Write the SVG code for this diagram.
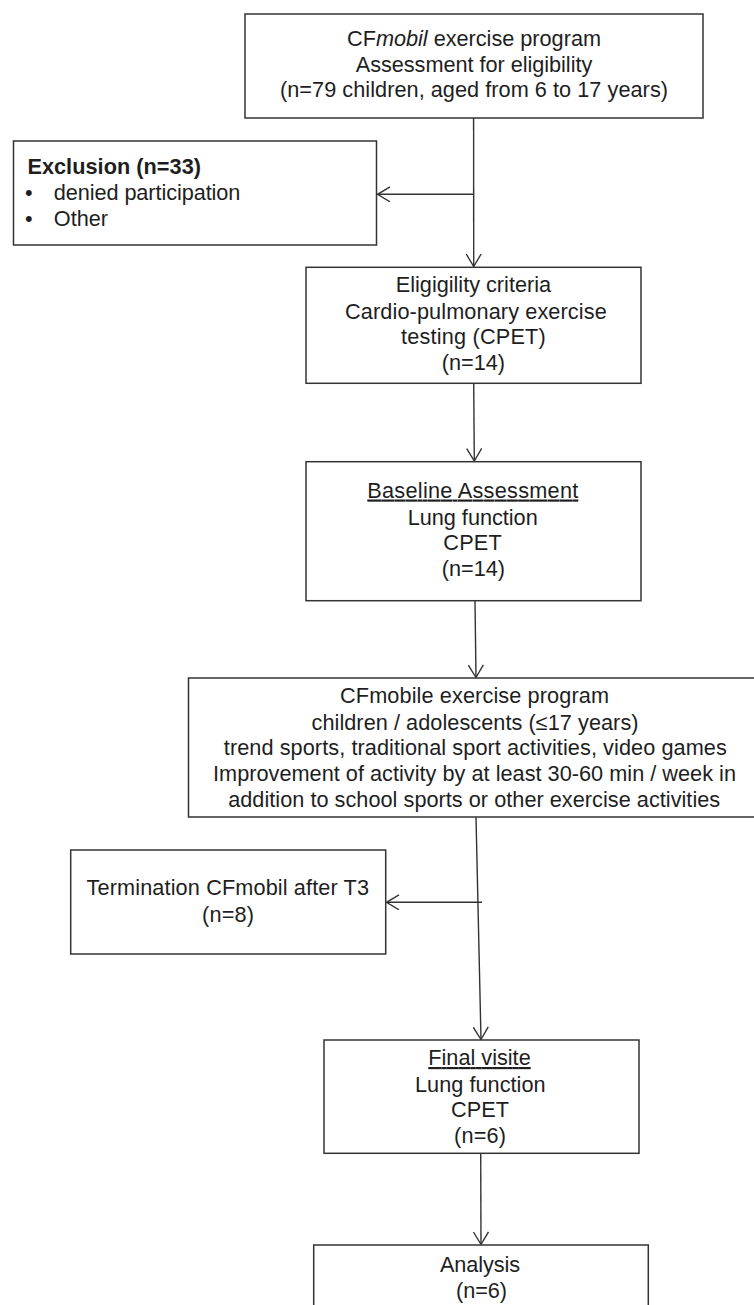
<svg xmlns="http://www.w3.org/2000/svg" width="754" height="1305" viewBox="0 0 754 1305">
<style>
.box{fill:#fff;stroke:#333;stroke-width:1.5}
.t{font-family:"Liberation Sans",Arial,sans-serif;font-size:21.7px;fill:#1e1e1e}
.c{text-anchor:middle}
.b{font-weight:bold}
.u{text-decoration:underline}
.con{fill:none;stroke:#333;stroke-width:1.4}
</style>
<defs>
<marker id="arr" markerUnits="userSpaceOnUse" viewBox="0 0 14 16" refX="13" refY="8" markerWidth="14" markerHeight="16" orient="auto">
<path d="M0.5,0.5 L13,8 L0.5,15.5" fill="none" stroke="#333" stroke-width="1.4"/>
</marker>
</defs>
<rect width="754" height="1305" fill="#fff"/>
<g id="connectors">
<line class="con" x1="473.6" y1="118" x2="473.7" y2="266.5" marker-end="url(#arr)"/>
<line class="con" x1="473.6" y1="194.3" x2="377.5" y2="194.3" marker-end="url(#arr)"/>
<line class="con" x1="473.7" y1="383.3" x2="474.3" y2="461" marker-end="url(#arr)"/>
<line class="con" x1="475" y1="600.7" x2="476" y2="677.5" marker-end="url(#arr)"/>
<line class="con" x1="476" y1="817" x2="481" y2="1039.5" marker-end="url(#arr)"/>
<line class="con" x1="482" y1="902.3" x2="386.5" y2="902.3" marker-end="url(#arr)"/>
<line class="con" x1="480.7" y1="1153.3" x2="481" y2="1244.5" marker-end="url(#arr)"/>
</g>
<g id="node-start">
<rect class="box" x="245" y="14" width="458" height="104"/>
<text class="t c" x="474" y="45.7" textLength="254" lengthAdjust="spacing">CF<tspan font-style="italic">mobil</tspan> exercise program</text>
<text class="t c" x="474" y="71.7" textLength="236.5" lengthAdjust="spacing">Assessment for eligibility</text>
<text class="t c" x="474" y="96.7" textLength="388" lengthAdjust="spacing">(n=79 children, aged from 6 to 17 years)</text>
</g>
<g id="node-exclusion">
<rect class="box" x="13.5" y="141" width="363" height="104"/>
<text class="t b" x="27.4" y="173.5" textLength="173.6" lengthAdjust="spacing">Exclusion (n=33)</text>
<text class="t" x="25" y="200">•</text>
<text class="t" x="53.8" y="200" textLength="186.6" lengthAdjust="spacing">denied participation</text>
<text class="t" x="25" y="225.7">•</text>
<text class="t" x="53.8" y="225.7" textLength="54.2" lengthAdjust="spacing">Other</text>
</g>
<g id="node-eligibility">
<rect class="box" x="306" y="267.3" width="335" height="116"/>
<text class="t c" x="473.4" y="292" textLength="155.3" lengthAdjust="spacing">Eligigility  criteria</text>
<text class="t c" x="475.9" y="318.5" textLength="261.7" lengthAdjust="spacing">Cardio-pulmonary exercise</text>
<text class="t c" x="473.4" y="344" textLength="144.7" lengthAdjust="spacing">testing (CPET)</text>
<text class="t c" x="473.4" y="369.5" textLength="63.3" lengthAdjust="spacing">(n=14)</text>
</g>
<g id="node-baseline">
<rect class="box" x="306" y="461.7" width="335" height="139"/>
<text class="t c u" x="472.8" y="497.5" textLength="211" lengthAdjust="spacing">Baseline Assessment</text>
<text class="t c" x="472.7" y="524.5" textLength="130" lengthAdjust="spacing">Lung function</text>
<text class="t c" x="472.5" y="550" textLength="58.4" lengthAdjust="spacing">CPET</text>
<text class="t c" x="473.4" y="576" textLength="63.3" lengthAdjust="spacing">(n=14)</text>
</g>
<g id="node-program">
<rect class="box" x="188.5" y="678" width="575" height="139"/>
<text class="t c" x="474.5" y="703" textLength="269" lengthAdjust="spacing">CFmobile exercise program</text>
<text class="t c" x="475" y="729.5" textLength="327" lengthAdjust="spacing">children / adolescents (≤17 years)</text>
<text class="t c" x="475.3" y="755.3" textLength="503" lengthAdjust="spacing">trend sports, traditional  sport activities, video games</text>
<text class="t c" x="474.5" y="781" textLength="523" lengthAdjust="spacing">Improvement of activity by at least 30-60 min / week in</text>
<text class="t c" x="474.2" y="806.7" textLength="492" lengthAdjust="spacing">addition to school sports or other exercise activities</text>
</g>
<g id="node-termination">
<rect class="box" x="70.7" y="850" width="315" height="104"/>
<text class="t c" x="227.8" y="895" textLength="282.5" lengthAdjust="spacing">Termination CFmobil after T3</text>
<text class="t c" x="228" y="921.5" textLength="52" lengthAdjust="spacing">(n=8)</text>
</g>
<g id="node-final">
<rect class="box" x="324" y="1040" width="315" height="113.3"/>
<text class="t c u" x="479.5" y="1065" textLength="102.4" lengthAdjust="spacing">Final visite</text>
<text class="t c" x="480.3" y="1091.5" textLength="130.7" lengthAdjust="spacing">Lung function</text>
<text class="t c" x="480" y="1117" textLength="58" lengthAdjust="spacing">CPET</text>
<text class="t c" x="480" y="1143" textLength="52" lengthAdjust="spacing">(n=6)</text>
</g>
<g id="node-analysis">
<rect class="box" x="313.7" y="1245" width="334.6" height="80"/>
<text class="t c" x="480" y="1271.7" textLength="80" lengthAdjust="spacing">Analysis</text>
<text class="t c" x="481.5" y="1298" textLength="51" lengthAdjust="spacing">(n=6)</text>
</g>
</svg>
